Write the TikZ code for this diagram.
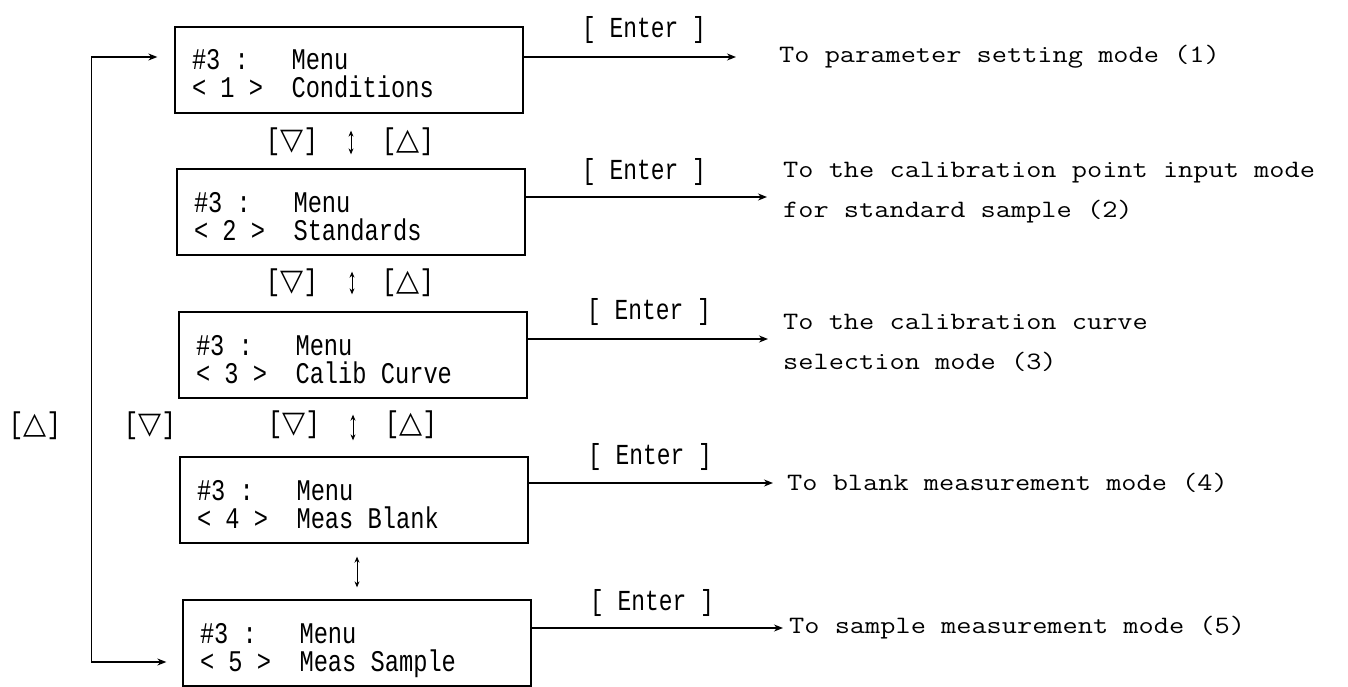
\documentclass[tikz,border=0pt]{standalone}
\usepackage{fontspec}
\usepackage{graphicx}
\usetikzlibrary{arrows.meta}
\newfontfamily\lcdf{Liberation Mono}
\newfontfamily\symf{DejaVu Sans}
\newcommand\msp{\hspace*{0.6em}}
\newcommand\lcd[1]{\scalebox{0.79}[1]{\lcdf #1}}
\newcommand\rtx[1]{\scalebox{1.18}[1]{\ttfamily #1}}
\newcommand\tri[1]{{\symf\fontsize{30}{30}\selectfont #1}}
\newcommand\keyl[1]{\lcd{[}\tri{#1}\lcd{]}}
\newcommand\topstrut{\rule{0pt}{36pt}}
\newcommand\botstrut{\rule[-8pt]{0pt}{8pt}}
\newcommand\menutext[1]{\topstrut\lcd{\#3\msp:\msp\msp\msp Menu}\\\lcd{#1}\botstrut}
\begin{document}
\begin{tikzpicture}[x=1pt,y=-1pt,
  menubox/.style={draw, line width=1.3pt, minimum width=348pt, minimum height=86pt,
    text width=314pt, inner xsep=17pt, inner ysep=0pt, align=left,
    font=\fontsize{30}{28}\selectfont},
  enterlbl/.style={inner sep=0pt, font=\fontsize{29}{29}\selectfont},
  keylbl/.style={inner sep=0pt, font=\fontsize{30}{30}\selectfont},
  target/.style={anchor=west, inner sep=0pt, align=left, font=\fontsize{25}{40}\selectfont},
  conn/.style={line width=1.3pt, -{Stealth[length=9pt,width=7pt]}},
  loopline/.style={line width=1.3pt, {Stealth[length=9pt,width=7pt]}-{Stealth[length=9pt,width=7pt]}},
  updown/.style={line width=1pt, {Stealth[length=6pt,width=5pt]}-{Stealth[length=6pt,width=5pt]}}
]
\useasboundingbox (0,0) rectangle (1348,687);

% menu boxes
\node[menubox] (b1) at (349,70)  {\menutext{<\msp 1\msp>\msp\msp Conditions}};
\node[menubox] (b2) at (351,212) {\menutext{<\msp 2\msp>\msp\msp Standards}};
\node[menubox] (b3) at (353,355) {\menutext{<\msp 3\msp>\msp\msp Calib\msp Curve}};
\node[menubox] (b4) at (354,500) {\menutext{<\msp 4\msp>\msp\msp Meas\msp Blank}};
\node[menubox] (b5) at (357,643) {\menutext{<\msp 5\msp>\msp\msp Meas\msp Sample}};

% targets
\node[target] (t1) at (779,57)    {\rtx{To parameter setting mode (1)}};
\node[target] (t2) at (783,192.5) {\rtx{To the calibration point input mode}\\\rtx{for standard sample (2)}};
\node[target] (t3) at (783,342.5) {\rtx{To the calibration curve}\\\rtx{selection mode (3)}};
\node[target] (t4) at (787,483)   {\rtx{To blank measurement mode (4)}};
\node[target] (t5) at (789,628)   {\rtx{To sample measurement mode (5)}};

% enter labels
\node[enterlbl] (e1) at (644,30)  {\lcd{[\msp Enter\msp]}};
\node[enterlbl] (e2) at (644,172) {\lcd{[\msp Enter\msp]}};
\node[enterlbl] (e3) at (649,312) {\lcd{[\msp Enter\msp]}};
\node[enterlbl] (e4) at (650,457) {\lcd{[\msp Enter\msp]}};
\node[enterlbl] (e5) at (652,603) {\lcd{[\msp Enter\msp]}};

% enter connectors
\draw[conn, shorten >=43pt] ([yshift=13pt]b1.east) -- ([yshift=13pt]b1.east -| t1.west);
\draw[conn, shorten >=16pt] ([yshift=15pt]b2.east) -- ([yshift=15pt]b2.east -| t2.west);
\draw[conn, shorten >=15pt] ([yshift=16pt]b3.east) -- ([yshift=16pt]b3.east -| t3.west);
\draw[conn, shorten >=14pt] ([yshift=17pt]b4.east) -- ([yshift=17pt]b4.east -| t4.west);
\draw[conn, shorten >=6pt]  ([yshift=15pt]b5.east) -- ([yshift=15pt]b5.east -| t5.west);

% key labels between boxes
\node[keylbl] (kd1) at (292,142) {\keyl{▽}};
\node[keylbl] (ku1) at (408,142) {\keyl{△}};
\node[keylbl] (kd2) at (292,283) {\keyl{▽}};
\node[keylbl] (ku2) at (408,283) {\keyl{△}};
\node[keylbl] (kd3) at (294,425) {\keyl{▽}};
\node[keylbl] (ku3) at (411,425) {\keyl{△}};
\node[keylbl] (kl1) at (35,426)  {\keyl{△}};
\node[keylbl] (kl2) at (150,426) {\keyl{▽}};

% up/down arrows between boxes
\draw[updown, shorten <=17pt, shorten >=14pt] ([xshift=2pt]b1.south) -- ([xshift=2pt]b1.south |- b2.north);
\draw[updown, shorten <=16pt, shorten >=17pt] ([xshift=1pt]b2.south) -- ([xshift=1pt]b2.south |- b3.north);
\draw[updown, shorten <=16pt, shorten >=16pt] (b3.south) -- (b3.south |- b4.north);
\draw[updown, shorten <=13pt, shorten >=12pt] ([xshift=3pt]b4.south) -- ([xshift=3pt]b4.south |- b5.north);

% left loop
\draw[loopline] ([xshift=-16pt,yshift=-19pt]b5.west) -- ++(-75,0) |- ([xshift=-17pt,yshift=13pt]b1.west);
\end{tikzpicture}
\end{document}
